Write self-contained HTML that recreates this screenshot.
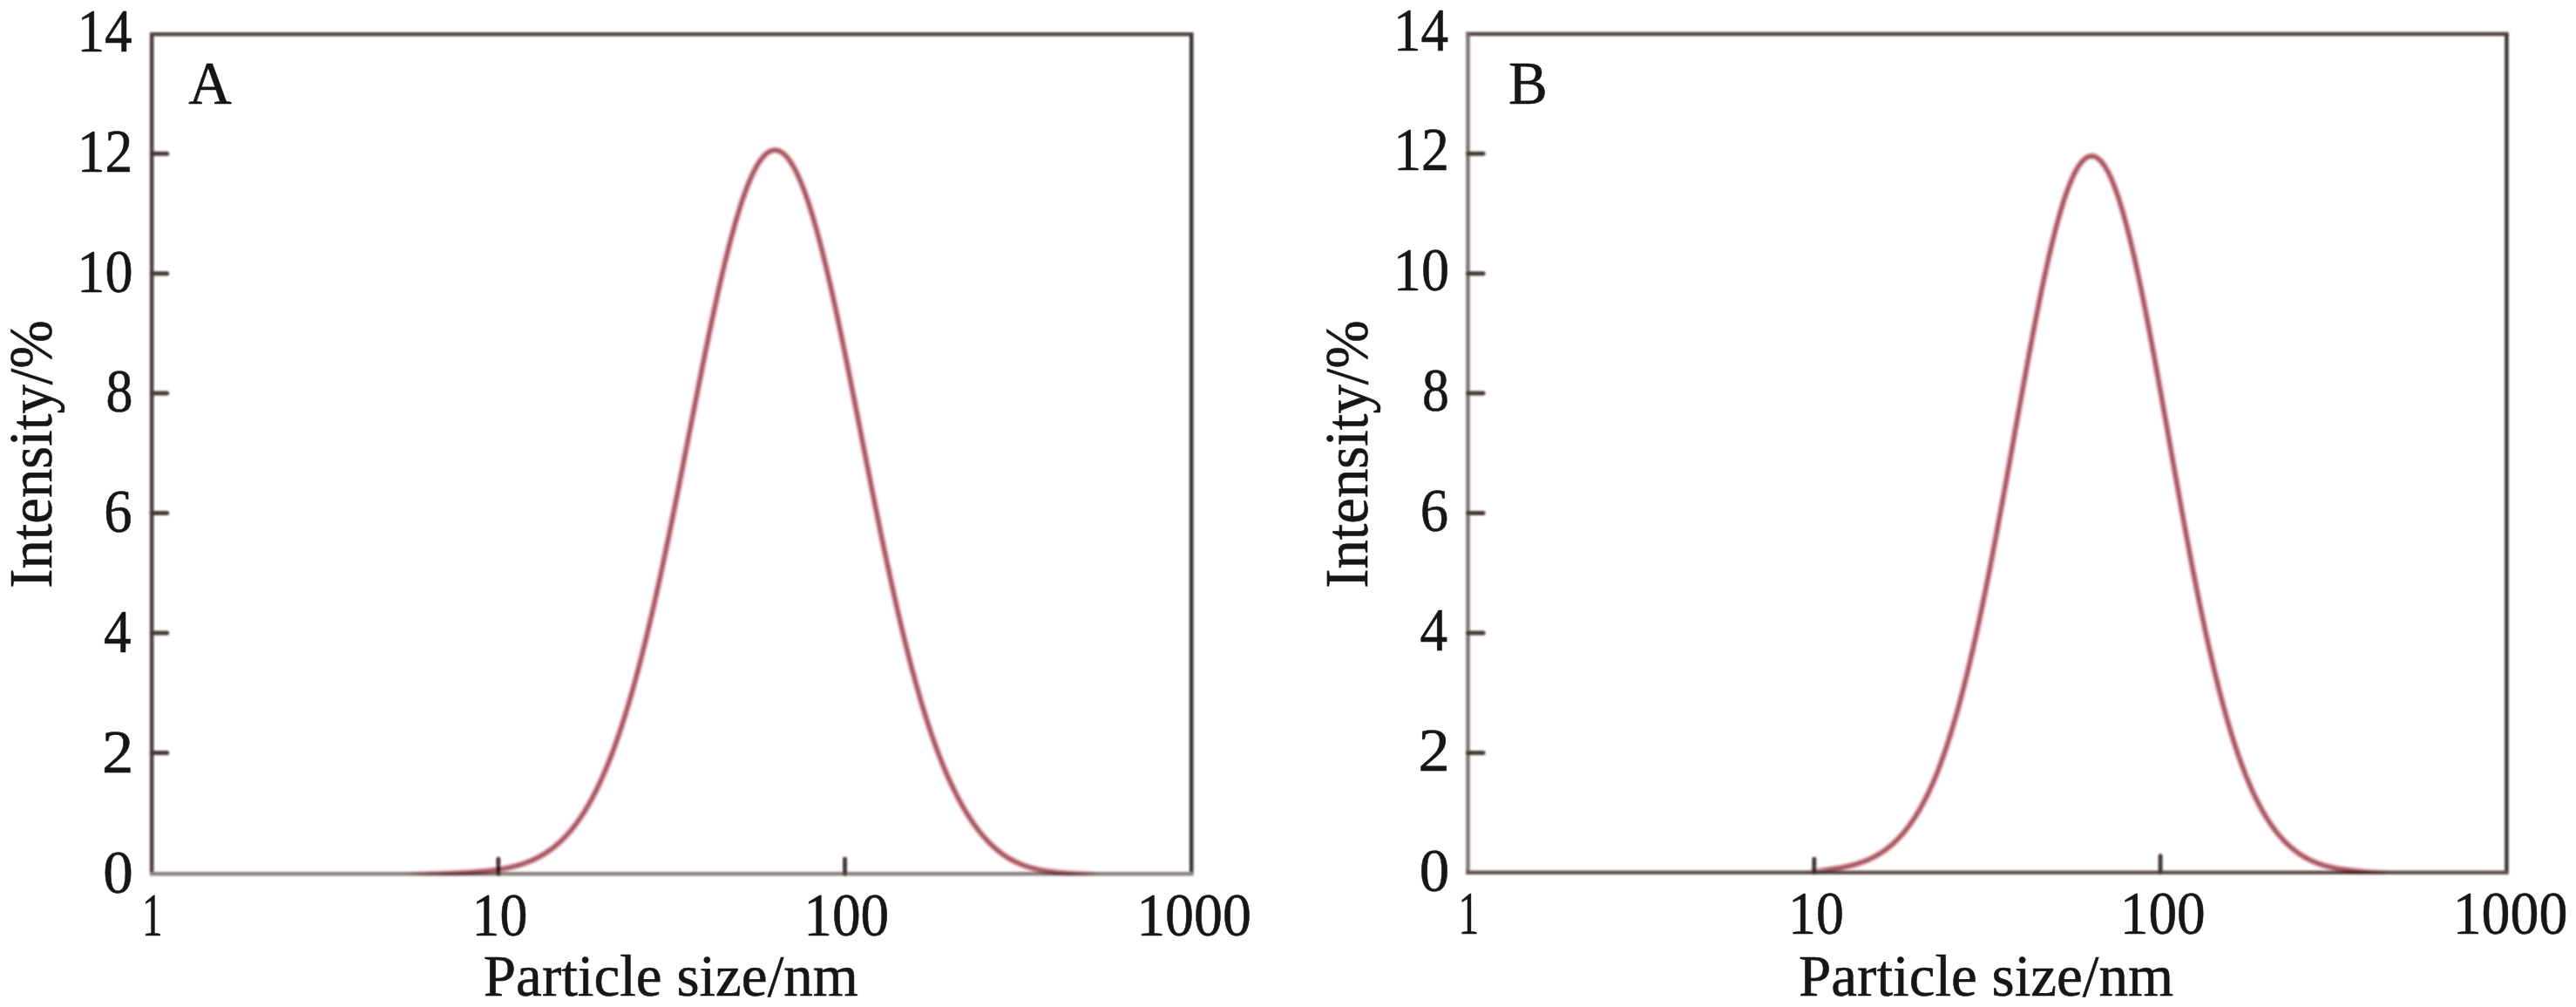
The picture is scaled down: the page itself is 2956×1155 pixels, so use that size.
<!DOCTYPE html>
<html><head><meta charset="utf-8"><title>Particle size distribution</title>
<style>
html,body{margin:0;padding:0;background:#fff;}
body{width:2956px;height:1155px;overflow:hidden;}
svg{display:block;}
text{font-family:"Liberation Serif", serif;fill:#161616;stroke:#161616;stroke-width:0.6px;stroke-linejoin:round;}
</style></head><body>
<svg width="2956" height="1155" viewBox="0 0 2956 1155">
<defs><filter id="soft" x="-2%" y="-2%" width="104%" height="104%"><feGaussianBlur stdDeviation="0.8"/></filter></defs>
<rect width="2956" height="1155" fill="#fff"/>
<defs><linearGradient id="g174" gradientUnits="userSpaceOnUse" x1="465.0" y1="0" x2="1262.0" y2="0"><stop offset="0" stop-color="#a65c66" stop-opacity="0"/><stop offset="0.100" stop-color="#a65c66" stop-opacity="1"/><stop offset="0.928" stop-color="#a65c66" stop-opacity="1"/><stop offset="1" stop-color="#a65c66" stop-opacity="0"/></linearGradient><linearGradient id="g174h" gradientUnits="userSpaceOnUse" x1="465.0" y1="0" x2="1262.0" y2="0"><stop offset="0" stop-color="#eeb4bc" stop-opacity="0"/><stop offset="0.100" stop-color="#eeb4bc" stop-opacity="1"/><stop offset="0.928" stop-color="#eeb4bc" stop-opacity="1"/><stop offset="1" stop-color="#eeb4bc" stop-opacity="0"/></linearGradient></defs>
<g filter="url(#soft)">
<line x1="171.89999999999998" y1="39.2" x2="1369.5" y2="39.2" stroke="#4f4743" stroke-width="4.6"/>
<line x1="174.2" y1="39.2" x2="174.2" y2="1002.3" stroke="#4b413f" stroke-width="4.6"/>
<line x1="1367.2" y1="39.2" x2="1367.2" y2="1002.3" stroke="#3e3531" stroke-width="4.6"/>
<line x1="171.89999999999998" y1="1002.3" x2="1369.5" y2="1002.3" stroke="#8a8280" stroke-width="4.6"/>
<line x1="174.2" y1="863.40" x2="191.7" y2="863.40" stroke="#453b38" stroke-width="5" stroke-linecap="round"/>
<line x1="174.2" y1="725.96" x2="191.7" y2="725.96" stroke="#453b38" stroke-width="5" stroke-linecap="round"/>
<line x1="174.2" y1="588.52" x2="191.7" y2="588.52" stroke="#453b38" stroke-width="5" stroke-linecap="round"/>
<line x1="174.2" y1="451.08" x2="191.7" y2="451.08" stroke="#453b38" stroke-width="5" stroke-linecap="round"/>
<line x1="174.2" y1="313.64" x2="191.7" y2="313.64" stroke="#453b38" stroke-width="5" stroke-linecap="round"/>
<line x1="174.2" y1="176.20" x2="191.7" y2="176.20" stroke="#453b38" stroke-width="5" stroke-linecap="round"/>
<line x1="571.87" y1="1002.3" x2="571.87" y2="985.3" stroke="#453b38" stroke-width="5" stroke-linecap="round"/>
<line x1="969.53" y1="1002.3" x2="969.53" y2="985.3" stroke="#453b38" stroke-width="5" stroke-linecap="round"/>
<g style="mix-blend-mode:multiply"><path d="M465.0,1001.92 L466.5,1001.92 L468.0,1001.91 L469.5,1001.90 L471.0,1001.90 L472.5,1001.89 L474.0,1001.88 L475.5,1001.88 L477.0,1001.87 L478.5,1001.86 L480.0,1001.85 L481.5,1001.84 L483.0,1001.83 L484.5,1001.82 L486.0,1001.81 L487.5,1001.79 L489.0,1001.78 L490.5,1001.77 L492.0,1001.75 L493.5,1001.74 L495.0,1001.72 L496.5,1001.70 L498.0,1001.68 L499.5,1001.66 L501.0,1001.64 L502.5,1001.62 L504.0,1001.60 L505.5,1001.57 L507.0,1001.55 L508.5,1001.52 L510.0,1001.49 L511.5,1001.46 L513.0,1001.43 L514.5,1001.39 L516.0,1001.36 L517.5,1001.32 L519.0,1001.28 L520.5,1001.24 L522.0,1001.19 L523.5,1001.15 L525.0,1001.10 L526.5,1001.04 L528.0,1000.99 L529.5,1000.93 L531.0,1000.87 L532.5,1000.81 L534.0,1000.74 L535.5,1000.67 L537.0,1000.59 L538.5,1000.51 L540.0,1000.43 L541.5,1000.35 L543.0,1000.25 L544.5,1000.16 L546.0,1000.06 L547.5,999.95 L549.0,999.84 L550.5,999.73 L552.0,999.60 L553.5,999.48 L555.0,999.34 L556.5,999.20 L558.0,999.06 L559.5,998.90 L561.0,998.74 L562.5,998.57 L564.0,998.40 L565.5,998.21 L567.0,998.02 L568.5,997.81 L570.0,997.60 L571.5,997.38 L573.0,997.15 L574.5,996.91 L576.0,996.65 L577.5,996.39 L579.0,996.12 L580.5,995.83 L582.0,995.53 L583.5,995.21 L585.0,994.89 L586.5,994.55 L588.0,994.19 L589.5,993.82 L591.0,993.43 L592.5,993.03 L594.0,992.61 L595.5,992.18 L597.0,991.72 L598.5,991.25 L600.0,990.76 L601.5,990.25 L603.0,989.71 L604.5,989.16 L606.0,988.58 L607.5,987.99 L609.0,987.37 L610.5,986.72 L612.0,986.05 L613.5,985.36 L615.0,984.64 L616.5,983.89 L618.0,983.11 L619.5,982.31 L621.0,981.47 L622.5,980.61 L624.0,979.71 L625.5,978.78 L627.0,977.82 L628.5,976.83 L630.0,975.80 L631.5,974.73 L633.0,973.63 L634.5,972.49 L636.0,971.31 L637.5,970.09 L639.0,968.83 L640.5,967.53 L642.0,966.18 L643.5,964.80 L645.0,963.36 L646.5,961.88 L648.0,960.36 L649.5,958.78 L651.0,957.16 L652.5,955.49 L654.0,953.76 L655.5,951.99 L657.0,950.16 L658.5,948.27 L660.0,946.33 L661.5,944.33 L663.0,942.28 L664.5,940.16 L666.0,937.99 L667.5,935.76 L669.0,933.46 L670.5,931.10 L672.0,928.67 L673.5,926.18 L675.0,923.63 L676.5,921.00 L678.0,918.31 L679.5,915.55 L681.0,912.71 L682.5,909.81 L684.0,906.83 L685.5,903.78 L687.0,900.66 L688.5,897.46 L690.0,894.19 L691.5,890.83 L693.0,887.40 L694.5,883.90 L696.0,880.31 L697.5,876.64 L699.0,872.89 L700.5,869.06 L702.0,865.15 L703.5,861.16 L705.0,857.08 L706.5,852.92 L708.0,848.67 L709.5,844.35 L711.0,839.93 L712.5,835.43 L714.0,830.85 L715.5,826.18 L717.0,821.43 L718.5,816.59 L720.0,811.66 L721.5,806.65 L723.0,801.55 L724.5,796.37 L726.0,791.10 L727.5,785.75 L729.0,780.31 L730.5,774.79 L732.0,769.18 L733.5,763.49 L735.0,757.72 L736.5,751.87 L738.0,745.94 L739.5,739.92 L741.0,733.83 L742.5,727.66 L744.0,721.41 L745.5,715.09 L747.0,708.69 L748.5,702.22 L750.0,695.68 L751.5,689.06 L753.0,682.38 L754.5,675.63 L756.0,668.81 L757.5,661.93 L759.0,654.99 L760.5,647.99 L762.0,640.94 L763.5,633.82 L765.0,626.66 L766.5,619.44 L768.0,612.17 L769.5,604.86 L771.0,597.50 L772.5,590.11 L774.0,582.67 L775.5,575.20 L777.0,567.70 L778.5,560.16 L780.0,552.61 L781.5,545.02 L783.0,537.42 L784.5,529.80 L786.0,522.16 L787.5,514.52 L789.0,506.87 L790.5,499.21 L792.0,491.56 L793.5,483.90 L795.0,476.26 L796.5,468.62 L798.0,461.00 L799.5,453.40 L801.0,445.82 L802.5,438.26 L804.0,430.74 L805.5,423.24 L807.0,415.79 L808.5,408.38 L810.0,401.01 L811.5,393.69 L813.0,386.42 L814.5,379.22 L816.0,372.07 L817.5,364.99 L819.0,357.98 L820.5,351.04 L822.0,344.18 L823.5,337.40 L825.0,330.70 L826.5,324.10 L828.0,317.59 L829.5,311.18 L831.0,304.86 L832.5,298.66 L834.0,292.56 L835.5,286.58 L837.0,280.71 L838.5,274.96 L840.0,269.33 L841.5,263.84 L843.0,258.47 L844.5,253.24 L846.0,248.14 L847.5,243.19 L849.0,238.38 L850.5,233.72 L852.0,229.20 L853.5,224.85 L855.0,220.64 L856.5,216.60 L858.0,212.72 L859.5,209.00 L861.0,205.45 L862.5,202.07 L864.0,198.86 L865.5,195.83 L867.0,192.97 L868.5,190.29 L870.0,187.78 L871.5,185.46 L873.0,183.32 L874.5,181.37 L876.0,179.60 L877.5,178.02 L879.0,176.63 L880.5,175.42 L882.0,174.41 L883.5,173.59 L885.0,172.95 L886.5,172.51 L888.0,172.26 L889.5,172.20 L891.0,172.34 L892.5,172.66 L894.0,173.17 L895.5,173.88 L897.0,174.77 L898.5,175.85 L900.0,177.12 L901.5,178.58 L903.0,180.22 L904.5,182.05 L906.0,184.06 L907.5,186.26 L909.0,188.63 L910.5,191.19 L912.0,193.92 L913.5,196.82 L915.0,199.91 L916.5,203.16 L918.0,206.58 L919.5,210.17 L921.0,213.92 L922.5,217.84 L924.0,221.91 L925.5,226.15 L927.0,230.53 L928.5,235.07 L930.0,239.76 L931.5,244.59 L933.0,249.56 L934.5,254.68 L936.0,259.93 L937.5,265.31 L939.0,270.82 L940.5,276.45 L942.0,282.21 L943.5,288.08 L945.0,294.07 L946.5,300.17 L948.0,306.38 L949.5,312.69 L951.0,319.10 L952.5,325.61 L954.0,332.21 L955.5,338.89 L957.0,345.66 L958.5,352.51 L960.0,359.44 L961.5,366.44 L963.0,373.50 L964.5,380.63 L966.0,387.82 L967.5,395.07 L969.0,402.37 L970.5,409.71 L972.0,417.10 L973.5,424.54 L975.0,432.00 L976.5,439.50 L978.0,447.03 L979.5,454.59 L981.0,462.16 L982.5,469.76 L984.0,477.36 L985.5,484.98 L987.0,492.60 L988.5,500.23 L990.0,507.85 L991.5,515.47 L993.0,523.08 L994.5,530.69 L996.0,538.27 L997.5,545.84 L999.0,553.39 L1000.5,560.92 L1002.0,568.42 L1003.5,575.89 L1005.0,583.33 L1006.5,590.73 L1008.0,598.09 L1009.5,605.42 L1011.0,612.70 L1012.5,619.93 L1014.0,627.11 L1015.5,634.25 L1017.0,641.33 L1018.5,648.36 L1020.0,655.33 L1021.5,662.24 L1023.0,669.08 L1024.5,675.87 L1026.0,682.59 L1027.5,689.24 L1029.0,695.83 L1030.5,702.35 L1032.0,708.79 L1033.5,715.16 L1035.0,721.46 L1036.5,727.68 L1038.0,733.83 L1039.5,739.89 L1041.0,745.88 L1042.5,751.79 L1044.0,757.62 L1045.5,763.37 L1047.0,769.04 L1048.5,774.63 L1050.0,780.13 L1051.5,785.55 L1053.0,790.88 L1054.5,796.13 L1056.0,801.30 L1057.5,806.38 L1059.0,811.37 L1060.5,816.29 L1062.0,821.11 L1063.5,825.85 L1065.0,830.51 L1066.5,835.08 L1068.0,839.57 L1069.5,843.97 L1071.0,848.29 L1072.5,852.52 L1074.0,856.68 L1075.5,860.75 L1077.0,864.73 L1078.5,868.64 L1080.0,872.46 L1081.5,876.20 L1083.0,879.86 L1084.5,883.45 L1086.0,886.95 L1087.5,890.38 L1089.0,893.73 L1090.5,897.00 L1092.0,900.21 L1093.5,903.36 L1095.0,906.44 L1096.5,909.45 L1098.0,912.40 L1099.5,915.28 L1101.0,918.11 L1102.5,920.86 L1104.0,923.56 L1105.5,926.19 L1107.0,928.77 L1108.5,931.28 L1110.0,933.73 L1111.5,936.12 L1113.0,938.46 L1114.5,940.73 L1116.0,942.95 L1117.5,945.11 L1119.0,947.21 L1120.5,949.26 L1122.0,951.25 L1123.5,953.19 L1125.0,955.07 L1126.5,956.90 L1128.0,958.68 L1129.5,960.41 L1131.0,962.09 L1132.5,963.72 L1134.0,965.30 L1135.5,966.83 L1137.0,968.31 L1138.5,969.75 L1140.0,971.14 L1141.5,972.49 L1143.0,973.79 L1144.5,975.05 L1146.0,976.27 L1147.5,977.44 L1149.0,978.58 L1150.5,979.67 L1152.0,980.73 L1153.5,981.75 L1155.0,982.73 L1156.5,983.67 L1158.0,984.58 L1159.5,985.45 L1161.0,986.29 L1162.5,987.10 L1164.0,987.87 L1165.5,988.62 L1167.0,989.33 L1168.5,990.01 L1170.0,990.66 L1171.5,991.29 L1173.0,991.89 L1174.5,992.46 L1176.0,993.01 L1177.5,993.53 L1179.0,994.03 L1180.5,994.50 L1182.0,994.95 L1183.5,995.38 L1185.0,995.79 L1186.5,996.18 L1188.0,996.55 L1189.5,996.90 L1191.0,997.23 L1192.5,997.54 L1194.0,997.84 L1195.5,998.12 L1197.0,998.38 L1198.5,998.63 L1200.0,998.87 L1201.5,999.09 L1203.0,999.30 L1204.5,999.50 L1206.0,999.68 L1207.5,999.86 L1209.0,1000.02 L1210.5,1000.17 L1212.0,1000.32 L1213.5,1000.45 L1215.0,1000.57 L1216.5,1000.69 L1218.0,1000.80 L1219.5,1000.90 L1221.0,1000.99 L1222.5,1001.08 L1224.0,1001.16 L1225.5,1001.23 L1227.0,1001.30 L1228.5,1001.36 L1230.0,1001.42 L1231.5,1001.48 L1233.0,1001.53 L1234.5,1001.57 L1236.0,1001.61 L1237.5,1001.65 L1239.0,1001.69 L1240.5,1001.72 L1242.0,1001.75 L1243.5,1001.77 L1245.0,1001.80 L1246.5,1001.82 L1248.0,1001.84 L1249.5,1001.86 L1251.0,1001.87 L1252.5,1001.89 L1254.0,1001.90 L1255.5,1001.91 L1257.0,1001.92 L1258.5,1001.93 L1260.0,1001.94 L1261.5,1001.95" fill="none" stroke="url(#g174h)" stroke-width="8" stroke-linejoin="round"/><path d="M465.0,1001.92 L466.5,1001.92 L468.0,1001.91 L469.5,1001.90 L471.0,1001.90 L472.5,1001.89 L474.0,1001.88 L475.5,1001.88 L477.0,1001.87 L478.5,1001.86 L480.0,1001.85 L481.5,1001.84 L483.0,1001.83 L484.5,1001.82 L486.0,1001.81 L487.5,1001.79 L489.0,1001.78 L490.5,1001.77 L492.0,1001.75 L493.5,1001.74 L495.0,1001.72 L496.5,1001.70 L498.0,1001.68 L499.5,1001.66 L501.0,1001.64 L502.5,1001.62 L504.0,1001.60 L505.5,1001.57 L507.0,1001.55 L508.5,1001.52 L510.0,1001.49 L511.5,1001.46 L513.0,1001.43 L514.5,1001.39 L516.0,1001.36 L517.5,1001.32 L519.0,1001.28 L520.5,1001.24 L522.0,1001.19 L523.5,1001.15 L525.0,1001.10 L526.5,1001.04 L528.0,1000.99 L529.5,1000.93 L531.0,1000.87 L532.5,1000.81 L534.0,1000.74 L535.5,1000.67 L537.0,1000.59 L538.5,1000.51 L540.0,1000.43 L541.5,1000.35 L543.0,1000.25 L544.5,1000.16 L546.0,1000.06 L547.5,999.95 L549.0,999.84 L550.5,999.73 L552.0,999.60 L553.5,999.48 L555.0,999.34 L556.5,999.20 L558.0,999.06 L559.5,998.90 L561.0,998.74 L562.5,998.57 L564.0,998.40 L565.5,998.21 L567.0,998.02 L568.5,997.81 L570.0,997.60 L571.5,997.38 L573.0,997.15 L574.5,996.91 L576.0,996.65 L577.5,996.39 L579.0,996.12 L580.5,995.83 L582.0,995.53 L583.5,995.21 L585.0,994.89 L586.5,994.55 L588.0,994.19 L589.5,993.82 L591.0,993.43 L592.5,993.03 L594.0,992.61 L595.5,992.18 L597.0,991.72 L598.5,991.25 L600.0,990.76 L601.5,990.25 L603.0,989.71 L604.5,989.16 L606.0,988.58 L607.5,987.99 L609.0,987.37 L610.5,986.72 L612.0,986.05 L613.5,985.36 L615.0,984.64 L616.5,983.89 L618.0,983.11 L619.5,982.31 L621.0,981.47 L622.5,980.61 L624.0,979.71 L625.5,978.78 L627.0,977.82 L628.5,976.83 L630.0,975.80 L631.5,974.73 L633.0,973.63 L634.5,972.49 L636.0,971.31 L637.5,970.09 L639.0,968.83 L640.5,967.53 L642.0,966.18 L643.5,964.80 L645.0,963.36 L646.5,961.88 L648.0,960.36 L649.5,958.78 L651.0,957.16 L652.5,955.49 L654.0,953.76 L655.5,951.99 L657.0,950.16 L658.5,948.27 L660.0,946.33 L661.5,944.33 L663.0,942.28 L664.5,940.16 L666.0,937.99 L667.5,935.76 L669.0,933.46 L670.5,931.10 L672.0,928.67 L673.5,926.18 L675.0,923.63 L676.5,921.00 L678.0,918.31 L679.5,915.55 L681.0,912.71 L682.5,909.81 L684.0,906.83 L685.5,903.78 L687.0,900.66 L688.5,897.46 L690.0,894.19 L691.5,890.83 L693.0,887.40 L694.5,883.90 L696.0,880.31 L697.5,876.64 L699.0,872.89 L700.5,869.06 L702.0,865.15 L703.5,861.16 L705.0,857.08 L706.5,852.92 L708.0,848.67 L709.5,844.35 L711.0,839.93 L712.5,835.43 L714.0,830.85 L715.5,826.18 L717.0,821.43 L718.5,816.59 L720.0,811.66 L721.5,806.65 L723.0,801.55 L724.5,796.37 L726.0,791.10 L727.5,785.75 L729.0,780.31 L730.5,774.79 L732.0,769.18 L733.5,763.49 L735.0,757.72 L736.5,751.87 L738.0,745.94 L739.5,739.92 L741.0,733.83 L742.5,727.66 L744.0,721.41 L745.5,715.09 L747.0,708.69 L748.5,702.22 L750.0,695.68 L751.5,689.06 L753.0,682.38 L754.5,675.63 L756.0,668.81 L757.5,661.93 L759.0,654.99 L760.5,647.99 L762.0,640.94 L763.5,633.82 L765.0,626.66 L766.5,619.44 L768.0,612.17 L769.5,604.86 L771.0,597.50 L772.5,590.11 L774.0,582.67 L775.5,575.20 L777.0,567.70 L778.5,560.16 L780.0,552.61 L781.5,545.02 L783.0,537.42 L784.5,529.80 L786.0,522.16 L787.5,514.52 L789.0,506.87 L790.5,499.21 L792.0,491.56 L793.5,483.90 L795.0,476.26 L796.5,468.62 L798.0,461.00 L799.5,453.40 L801.0,445.82 L802.5,438.26 L804.0,430.74 L805.5,423.24 L807.0,415.79 L808.5,408.38 L810.0,401.01 L811.5,393.69 L813.0,386.42 L814.5,379.22 L816.0,372.07 L817.5,364.99 L819.0,357.98 L820.5,351.04 L822.0,344.18 L823.5,337.40 L825.0,330.70 L826.5,324.10 L828.0,317.59 L829.5,311.18 L831.0,304.86 L832.5,298.66 L834.0,292.56 L835.5,286.58 L837.0,280.71 L838.5,274.96 L840.0,269.33 L841.5,263.84 L843.0,258.47 L844.5,253.24 L846.0,248.14 L847.5,243.19 L849.0,238.38 L850.5,233.72 L852.0,229.20 L853.5,224.85 L855.0,220.64 L856.5,216.60 L858.0,212.72 L859.5,209.00 L861.0,205.45 L862.5,202.07 L864.0,198.86 L865.5,195.83 L867.0,192.97 L868.5,190.29 L870.0,187.78 L871.5,185.46 L873.0,183.32 L874.5,181.37 L876.0,179.60 L877.5,178.02 L879.0,176.63 L880.5,175.42 L882.0,174.41 L883.5,173.59 L885.0,172.95 L886.5,172.51 L888.0,172.26 L889.5,172.20 L891.0,172.34 L892.5,172.66 L894.0,173.17 L895.5,173.88 L897.0,174.77 L898.5,175.85 L900.0,177.12 L901.5,178.58 L903.0,180.22 L904.5,182.05 L906.0,184.06 L907.5,186.26 L909.0,188.63 L910.5,191.19 L912.0,193.92 L913.5,196.82 L915.0,199.91 L916.5,203.16 L918.0,206.58 L919.5,210.17 L921.0,213.92 L922.5,217.84 L924.0,221.91 L925.5,226.15 L927.0,230.53 L928.5,235.07 L930.0,239.76 L931.5,244.59 L933.0,249.56 L934.5,254.68 L936.0,259.93 L937.5,265.31 L939.0,270.82 L940.5,276.45 L942.0,282.21 L943.5,288.08 L945.0,294.07 L946.5,300.17 L948.0,306.38 L949.5,312.69 L951.0,319.10 L952.5,325.61 L954.0,332.21 L955.5,338.89 L957.0,345.66 L958.5,352.51 L960.0,359.44 L961.5,366.44 L963.0,373.50 L964.5,380.63 L966.0,387.82 L967.5,395.07 L969.0,402.37 L970.5,409.71 L972.0,417.10 L973.5,424.54 L975.0,432.00 L976.5,439.50 L978.0,447.03 L979.5,454.59 L981.0,462.16 L982.5,469.76 L984.0,477.36 L985.5,484.98 L987.0,492.60 L988.5,500.23 L990.0,507.85 L991.5,515.47 L993.0,523.08 L994.5,530.69 L996.0,538.27 L997.5,545.84 L999.0,553.39 L1000.5,560.92 L1002.0,568.42 L1003.5,575.89 L1005.0,583.33 L1006.5,590.73 L1008.0,598.09 L1009.5,605.42 L1011.0,612.70 L1012.5,619.93 L1014.0,627.11 L1015.5,634.25 L1017.0,641.33 L1018.5,648.36 L1020.0,655.33 L1021.5,662.24 L1023.0,669.08 L1024.5,675.87 L1026.0,682.59 L1027.5,689.24 L1029.0,695.83 L1030.5,702.35 L1032.0,708.79 L1033.5,715.16 L1035.0,721.46 L1036.5,727.68 L1038.0,733.83 L1039.5,739.89 L1041.0,745.88 L1042.5,751.79 L1044.0,757.62 L1045.5,763.37 L1047.0,769.04 L1048.5,774.63 L1050.0,780.13 L1051.5,785.55 L1053.0,790.88 L1054.5,796.13 L1056.0,801.30 L1057.5,806.38 L1059.0,811.37 L1060.5,816.29 L1062.0,821.11 L1063.5,825.85 L1065.0,830.51 L1066.5,835.08 L1068.0,839.57 L1069.5,843.97 L1071.0,848.29 L1072.5,852.52 L1074.0,856.68 L1075.5,860.75 L1077.0,864.73 L1078.5,868.64 L1080.0,872.46 L1081.5,876.20 L1083.0,879.86 L1084.5,883.45 L1086.0,886.95 L1087.5,890.38 L1089.0,893.73 L1090.5,897.00 L1092.0,900.21 L1093.5,903.36 L1095.0,906.44 L1096.5,909.45 L1098.0,912.40 L1099.5,915.28 L1101.0,918.11 L1102.5,920.86 L1104.0,923.56 L1105.5,926.19 L1107.0,928.77 L1108.5,931.28 L1110.0,933.73 L1111.5,936.12 L1113.0,938.46 L1114.5,940.73 L1116.0,942.95 L1117.5,945.11 L1119.0,947.21 L1120.5,949.26 L1122.0,951.25 L1123.5,953.19 L1125.0,955.07 L1126.5,956.90 L1128.0,958.68 L1129.5,960.41 L1131.0,962.09 L1132.5,963.72 L1134.0,965.30 L1135.5,966.83 L1137.0,968.31 L1138.5,969.75 L1140.0,971.14 L1141.5,972.49 L1143.0,973.79 L1144.5,975.05 L1146.0,976.27 L1147.5,977.44 L1149.0,978.58 L1150.5,979.67 L1152.0,980.73 L1153.5,981.75 L1155.0,982.73 L1156.5,983.67 L1158.0,984.58 L1159.5,985.45 L1161.0,986.29 L1162.5,987.10 L1164.0,987.87 L1165.5,988.62 L1167.0,989.33 L1168.5,990.01 L1170.0,990.66 L1171.5,991.29 L1173.0,991.89 L1174.5,992.46 L1176.0,993.01 L1177.5,993.53 L1179.0,994.03 L1180.5,994.50 L1182.0,994.95 L1183.5,995.38 L1185.0,995.79 L1186.5,996.18 L1188.0,996.55 L1189.5,996.90 L1191.0,997.23 L1192.5,997.54 L1194.0,997.84 L1195.5,998.12 L1197.0,998.38 L1198.5,998.63 L1200.0,998.87 L1201.5,999.09 L1203.0,999.30 L1204.5,999.50 L1206.0,999.68 L1207.5,999.86 L1209.0,1000.02 L1210.5,1000.17 L1212.0,1000.32 L1213.5,1000.45 L1215.0,1000.57 L1216.5,1000.69 L1218.0,1000.80 L1219.5,1000.90 L1221.0,1000.99 L1222.5,1001.08 L1224.0,1001.16 L1225.5,1001.23 L1227.0,1001.30 L1228.5,1001.36 L1230.0,1001.42 L1231.5,1001.48 L1233.0,1001.53 L1234.5,1001.57 L1236.0,1001.61 L1237.5,1001.65 L1239.0,1001.69 L1240.5,1001.72 L1242.0,1001.75 L1243.5,1001.77 L1245.0,1001.80 L1246.5,1001.82 L1248.0,1001.84 L1249.5,1001.86 L1251.0,1001.87 L1252.5,1001.89 L1254.0,1001.90 L1255.5,1001.91 L1257.0,1001.92 L1258.5,1001.93 L1260.0,1001.94 L1261.5,1001.95" fill="none" stroke="url(#g174)" stroke-width="4.8" stroke-linejoin="round"/></g>
</g>
<text x="118.32" y="1023.50" font-size="69.5" textLength="34.51" lengthAdjust="spacingAndGlyphs">0</text>
<text x="117.07" y="885.73" font-size="69.5" textLength="36.24" lengthAdjust="spacingAndGlyphs">2</text>
<text x="118.99" y="747.96" font-size="69.5" textLength="31.59" lengthAdjust="spacingAndGlyphs">4</text>
<text x="119.21" y="610.19" font-size="69.5" textLength="32.32" lengthAdjust="spacingAndGlyphs">6</text>
<text x="121.43" y="472.42" font-size="69.5" textLength="30.92" lengthAdjust="spacingAndGlyphs">8</text>
<text x="88.36" y="334.65" font-size="69.5" textLength="64.15" lengthAdjust="spacingAndGlyphs">10</text>
<text x="88.71" y="196.88" font-size="69.5" textLength="63.59" lengthAdjust="spacingAndGlyphs">12</text>
<text x="88.45" y="59.11" font-size="69.5" textLength="63.11" lengthAdjust="spacingAndGlyphs">14</text>
<text x="163.02" y="1072.70" font-size="69.5" textLength="23.63" lengthAdjust="spacingAndGlyphs">1</text>
<text x="541.49" y="1072.70" font-size="69.5" textLength="63.80" lengthAdjust="spacingAndGlyphs">10</text>
<text x="922.26" y="1072.70" font-size="69.5" textLength="97.95" lengthAdjust="spacingAndGlyphs">100</text>
<text x="1304.22" y="1072.70" font-size="69.5" textLength="131.62" lengthAdjust="spacingAndGlyphs">1000</text>
<text x="554.84" y="1141.80" font-size="68.5" textLength="430.13" lengthAdjust="spacingAndGlyphs">Particle size/nm</text>
<text transform="translate(58.60,674.78) rotate(-90)" font-size="69.5" textLength="307.71" lengthAdjust="spacingAndGlyphs">Intensity/%</text>
<text x="216.23" y="118.90" font-size="70.5" textLength="49.57" lengthAdjust="spacingAndGlyphs">A</text>
<defs><linearGradient id="g1684" gradientUnits="userSpaceOnUse" x1="2074.0" y1="0" x2="2742.0" y2="0"><stop offset="0" stop-color="#a65c66" stop-opacity="0"/><stop offset="0.039" stop-color="#a65c66" stop-opacity="1"/><stop offset="0.930" stop-color="#a65c66" stop-opacity="1"/><stop offset="1" stop-color="#a65c66" stop-opacity="0"/></linearGradient><linearGradient id="g1684h" gradientUnits="userSpaceOnUse" x1="2074.0" y1="0" x2="2742.0" y2="0"><stop offset="0" stop-color="#eeb4bc" stop-opacity="0"/><stop offset="0.039" stop-color="#eeb4bc" stop-opacity="1"/><stop offset="0.930" stop-color="#eeb4bc" stop-opacity="1"/><stop offset="1" stop-color="#eeb4bc" stop-opacity="0"/></linearGradient></defs>
<g filter="url(#soft)">
<line x1="1682.2" y1="39.0" x2="2878.7000000000003" y2="39.0" stroke="#4f4743" stroke-width="4.6"/>
<line x1="1684.5" y1="39.0" x2="1684.5" y2="1000.8" stroke="#807875" stroke-width="4.6"/>
<line x1="2876.4" y1="39.0" x2="2876.4" y2="1000.8" stroke="#433a36" stroke-width="4.6"/>
<line x1="1682.2" y1="1000.8" x2="2878.7000000000003" y2="1000.8" stroke="#5c534e" stroke-width="4.6"/>
<line x1="1684.5" y1="863.40" x2="1702.0" y2="863.40" stroke="#453b38" stroke-width="5" stroke-linecap="round"/>
<line x1="1684.5" y1="725.96" x2="1702.0" y2="725.96" stroke="#453b38" stroke-width="5" stroke-linecap="round"/>
<line x1="1684.5" y1="588.52" x2="1702.0" y2="588.52" stroke="#453b38" stroke-width="5" stroke-linecap="round"/>
<line x1="1684.5" y1="451.08" x2="1702.0" y2="451.08" stroke="#453b38" stroke-width="5" stroke-linecap="round"/>
<line x1="1684.5" y1="313.64" x2="1702.0" y2="313.64" stroke="#453b38" stroke-width="5" stroke-linecap="round"/>
<line x1="1684.5" y1="176.20" x2="1702.0" y2="176.20" stroke="#453b38" stroke-width="5" stroke-linecap="round"/>
<line x1="2081.80" y1="1000.8" x2="2081.80" y2="985.3" stroke="#453b38" stroke-width="5" stroke-linecap="round"/>
<line x1="2479.10" y1="1000.8" x2="2479.10" y2="981.8" stroke="#453b38" stroke-width="5" stroke-linecap="round"/>
<g style="mix-blend-mode:multiply"><path d="M2074.0,999.16 L2075.5,999.09 L2077.0,999.00 L2078.5,998.92 L2080.0,998.83 L2081.5,998.73 L2083.0,998.63 L2084.5,998.53 L2086.0,998.41 L2087.5,998.30 L2089.0,998.17 L2090.5,998.05 L2092.0,997.91 L2093.5,997.77 L2095.0,997.62 L2096.5,997.46 L2098.0,997.29 L2099.5,997.12 L2101.0,996.94 L2102.5,996.75 L2104.0,996.55 L2105.5,996.34 L2107.0,996.12 L2108.5,995.89 L2110.0,995.64 L2111.5,995.39 L2113.0,995.12 L2114.5,994.85 L2116.0,994.56 L2117.5,994.25 L2119.0,993.93 L2120.5,993.60 L2122.0,993.25 L2123.5,992.89 L2125.0,992.51 L2126.5,992.11 L2128.0,991.70 L2129.5,991.26 L2131.0,990.81 L2132.5,990.34 L2134.0,989.84 L2135.5,989.33 L2137.0,988.79 L2138.5,988.24 L2140.0,987.65 L2141.5,987.05 L2143.0,986.42 L2144.5,985.76 L2146.0,985.07 L2147.5,984.36 L2149.0,983.62 L2150.5,982.84 L2152.0,982.04 L2153.5,981.21 L2155.0,980.34 L2156.5,979.44 L2158.0,978.50 L2159.5,977.53 L2161.0,976.52 L2162.5,975.47 L2164.0,974.39 L2165.5,973.26 L2167.0,972.09 L2168.5,970.88 L2170.0,969.62 L2171.5,968.32 L2173.0,966.97 L2174.5,965.57 L2176.0,964.12 L2177.5,962.63 L2179.0,961.08 L2180.5,959.48 L2182.0,957.82 L2183.5,956.11 L2185.0,954.34 L2186.5,952.51 L2188.0,950.62 L2189.5,948.67 L2191.0,946.66 L2192.5,944.59 L2194.0,942.44 L2195.5,940.24 L2197.0,937.96 L2198.5,935.61 L2200.0,933.19 L2201.5,930.70 L2203.0,928.14 L2204.5,925.50 L2206.0,922.78 L2207.5,919.98 L2209.0,917.11 L2210.5,914.15 L2212.0,911.12 L2213.5,908.00 L2215.0,904.79 L2216.5,901.50 L2218.0,898.12 L2219.5,894.65 L2221.0,891.05 L2222.5,887.32 L2224.0,883.48 L2225.5,879.56 L2227.0,875.53 L2228.5,871.41 L2230.0,867.19 L2231.5,862.87 L2233.0,858.45 L2234.5,853.93 L2236.0,849.30 L2237.5,844.58 L2239.0,839.75 L2240.5,834.83 L2242.0,829.79 L2243.5,824.66 L2245.0,819.42 L2246.5,814.08 L2248.0,808.64 L2249.5,803.09 L2251.0,797.44 L2252.5,791.68 L2254.0,785.83 L2255.5,779.87 L2257.0,773.81 L2258.5,767.65 L2260.0,761.39 L2261.5,755.03 L2263.0,748.57 L2264.5,742.01 L2266.0,735.36 L2267.5,728.62 L2269.0,721.78 L2270.5,714.85 L2272.0,707.83 L2273.5,700.73 L2275.0,693.53 L2276.5,686.26 L2278.0,678.90 L2279.5,671.46 L2281.0,663.95 L2282.5,656.36 L2284.0,648.70 L2285.5,640.97 L2287.0,633.17 L2288.5,625.31 L2290.0,617.39 L2291.5,609.41 L2293.0,601.39 L2294.5,593.31 L2296.0,585.18 L2297.5,577.01 L2299.0,568.80 L2300.5,560.56 L2302.0,552.29 L2303.5,543.99 L2305.0,535.66 L2306.5,527.32 L2308.0,518.97 L2309.5,510.60 L2311.0,502.24 L2312.5,493.87 L2314.0,485.50 L2315.5,477.15 L2317.0,468.81 L2318.5,460.49 L2320.0,452.19 L2321.5,443.93 L2323.0,435.69 L2324.5,427.50 L2326.0,419.36 L2327.5,411.26 L2329.0,403.22 L2330.5,395.24 L2332.0,387.33 L2333.5,379.49 L2335.0,371.72 L2336.5,364.04 L2338.0,356.45 L2339.5,348.95 L2341.0,341.55 L2342.5,334.25 L2344.0,327.06 L2345.5,319.99 L2347.0,313.04 L2348.5,306.21 L2350.0,299.51 L2351.5,292.94 L2353.0,286.52 L2354.5,280.24 L2356.0,274.11 L2357.5,268.14 L2359.0,262.32 L2360.5,256.67 L2362.0,251.19 L2363.5,245.87 L2365.0,240.74 L2366.5,235.79 L2368.0,231.02 L2369.5,226.44 L2371.0,222.05 L2372.5,217.86 L2374.0,213.87 L2375.5,210.08 L2377.0,206.49 L2378.5,203.12 L2380.0,199.95 L2381.5,197.00 L2383.0,194.27 L2384.5,191.76 L2386.0,189.47 L2387.5,187.40 L2389.0,185.55 L2390.5,183.93 L2392.0,182.54 L2393.5,181.38 L2395.0,180.45 L2396.5,179.74 L2398.0,179.27 L2399.5,179.03 L2401.0,179.03 L2402.5,179.25 L2404.0,179.72 L2405.5,180.42 L2407.0,181.36 L2408.5,182.53 L2410.0,183.93 L2411.5,185.57 L2413.0,187.43 L2414.5,189.53 L2416.0,191.85 L2417.5,194.40 L2419.0,197.18 L2420.5,200.17 L2422.0,203.38 L2423.5,206.81 L2425.0,210.45 L2426.5,214.30 L2428.0,218.36 L2429.5,222.62 L2431.0,227.08 L2432.5,231.73 L2434.0,236.58 L2435.5,241.61 L2437.0,246.83 L2438.5,252.23 L2440.0,257.80 L2441.5,263.55 L2443.0,269.46 L2444.5,275.53 L2446.0,281.76 L2447.5,288.14 L2449.0,294.66 L2450.5,301.33 L2452.0,308.14 L2453.5,315.07 L2455.0,322.13 L2456.5,329.31 L2458.0,336.61 L2459.5,344.02 L2461.0,351.53 L2462.5,359.14 L2464.0,366.84 L2465.5,374.63 L2467.0,382.51 L2468.5,390.46 L2470.0,398.48 L2471.5,406.56 L2473.0,414.71 L2474.5,422.91 L2476.0,431.16 L2477.5,439.45 L2479.0,447.79 L2480.5,456.15 L2482.0,464.54 L2483.5,472.96 L2485.0,481.39 L2486.5,489.84 L2488.0,498.29 L2489.5,506.74 L2491.0,515.20 L2492.5,523.64 L2494.0,532.07 L2495.5,540.49 L2497.0,548.88 L2498.5,557.25 L2500.0,565.59 L2501.5,573.90 L2503.0,582.16 L2504.5,590.39 L2506.0,598.57 L2507.5,606.70 L2509.0,614.77 L2510.5,622.79 L2512.0,630.75 L2513.5,638.65 L2515.0,646.48 L2516.5,654.24 L2518.0,661.92 L2519.5,669.53 L2521.0,677.07 L2522.5,684.52 L2524.0,691.89 L2525.5,699.17 L2527.0,706.37 L2528.5,713.48 L2530.0,720.50 L2531.5,727.42 L2533.0,734.25 L2534.5,740.98 L2536.0,747.62 L2537.5,754.16 L2539.0,760.59 L2540.5,766.93 L2542.0,773.17 L2543.5,779.30 L2545.0,785.33 L2546.5,791.25 L2548.0,797.07 L2549.5,802.79 L2551.0,808.39 L2552.5,813.90 L2554.0,819.30 L2555.5,824.59 L2557.0,829.78 L2558.5,834.86 L2560.0,839.84 L2561.5,844.71 L2563.0,849.48 L2564.5,854.14 L2566.0,858.71 L2567.5,863.16 L2569.0,867.52 L2570.5,871.78 L2572.0,875.93 L2573.5,879.99 L2575.0,883.95 L2576.5,887.81 L2578.0,891.57 L2579.5,895.24 L2581.0,898.81 L2582.5,902.29 L2584.0,905.68 L2585.5,908.98 L2587.0,912.19 L2588.5,915.31 L2590.0,918.34 L2591.5,921.29 L2593.0,924.16 L2594.5,926.94 L2596.0,929.64 L2597.5,932.26 L2599.0,934.81 L2600.5,937.28 L2602.0,939.67 L2603.5,941.99 L2605.0,944.25 L2606.5,946.43 L2608.0,948.55 L2609.5,950.61 L2611.0,952.60 L2612.5,954.52 L2614.0,956.39 L2615.5,958.19 L2617.0,959.94 L2618.5,961.63 L2620.0,963.26 L2621.5,964.84 L2623.0,966.36 L2624.5,967.83 L2626.0,969.25 L2627.5,970.62 L2629.0,971.94 L2630.5,973.21 L2632.0,974.44 L2633.5,975.62 L2635.0,976.75 L2636.5,977.85 L2638.0,978.90 L2639.5,979.91 L2641.0,980.89 L2642.5,981.82 L2644.0,982.72 L2645.5,983.58 L2647.0,984.41 L2648.5,985.20 L2650.0,985.96 L2651.5,986.69 L2653.0,987.39 L2654.5,988.06 L2656.0,988.70 L2657.5,989.31 L2659.0,989.89 L2660.5,990.45 L2662.0,990.99 L2663.5,991.50 L2665.0,991.98 L2666.5,992.45 L2668.0,992.89 L2669.5,993.31 L2671.0,993.72 L2672.5,994.10 L2674.0,994.46 L2675.5,994.81 L2677.0,995.14 L2678.5,995.45 L2680.0,995.75 L2681.5,996.03 L2683.0,996.30 L2684.5,996.55 L2686.0,996.79 L2687.5,997.02 L2689.0,997.24 L2690.5,997.44 L2692.0,997.63 L2693.5,997.81 L2695.0,997.99 L2696.5,998.15 L2698.0,998.30 L2699.5,998.45 L2701.0,998.58 L2702.5,998.71 L2704.0,998.83 L2705.5,998.95 L2707.0,999.05 L2708.5,999.15 L2710.0,999.25 L2711.5,999.33 L2713.0,999.42 L2714.5,999.50 L2716.0,999.57 L2717.5,999.64 L2719.0,999.70 L2720.5,999.76 L2722.0,999.81 L2723.5,999.87 L2725.0,999.91 L2726.5,999.96 L2728.0,1000.00 L2729.5,1000.04 L2731.0,1000.08 L2732.5,1000.11 L2734.0,1000.14 L2735.5,1000.17 L2737.0,1000.20 L2738.5,1000.22 L2740.0,1000.25 L2741.5,1000.27" fill="none" stroke="url(#g1684h)" stroke-width="8" stroke-linejoin="round"/><path d="M2074.0,999.16 L2075.5,999.09 L2077.0,999.00 L2078.5,998.92 L2080.0,998.83 L2081.5,998.73 L2083.0,998.63 L2084.5,998.53 L2086.0,998.41 L2087.5,998.30 L2089.0,998.17 L2090.5,998.05 L2092.0,997.91 L2093.5,997.77 L2095.0,997.62 L2096.5,997.46 L2098.0,997.29 L2099.5,997.12 L2101.0,996.94 L2102.5,996.75 L2104.0,996.55 L2105.5,996.34 L2107.0,996.12 L2108.5,995.89 L2110.0,995.64 L2111.5,995.39 L2113.0,995.12 L2114.5,994.85 L2116.0,994.56 L2117.5,994.25 L2119.0,993.93 L2120.5,993.60 L2122.0,993.25 L2123.5,992.89 L2125.0,992.51 L2126.5,992.11 L2128.0,991.70 L2129.5,991.26 L2131.0,990.81 L2132.5,990.34 L2134.0,989.84 L2135.5,989.33 L2137.0,988.79 L2138.5,988.24 L2140.0,987.65 L2141.5,987.05 L2143.0,986.42 L2144.5,985.76 L2146.0,985.07 L2147.5,984.36 L2149.0,983.62 L2150.5,982.84 L2152.0,982.04 L2153.5,981.21 L2155.0,980.34 L2156.5,979.44 L2158.0,978.50 L2159.5,977.53 L2161.0,976.52 L2162.5,975.47 L2164.0,974.39 L2165.5,973.26 L2167.0,972.09 L2168.5,970.88 L2170.0,969.62 L2171.5,968.32 L2173.0,966.97 L2174.5,965.57 L2176.0,964.12 L2177.5,962.63 L2179.0,961.08 L2180.5,959.48 L2182.0,957.82 L2183.5,956.11 L2185.0,954.34 L2186.5,952.51 L2188.0,950.62 L2189.5,948.67 L2191.0,946.66 L2192.5,944.59 L2194.0,942.44 L2195.5,940.24 L2197.0,937.96 L2198.5,935.61 L2200.0,933.19 L2201.5,930.70 L2203.0,928.14 L2204.5,925.50 L2206.0,922.78 L2207.5,919.98 L2209.0,917.11 L2210.5,914.15 L2212.0,911.12 L2213.5,908.00 L2215.0,904.79 L2216.5,901.50 L2218.0,898.12 L2219.5,894.65 L2221.0,891.05 L2222.5,887.32 L2224.0,883.48 L2225.5,879.56 L2227.0,875.53 L2228.5,871.41 L2230.0,867.19 L2231.5,862.87 L2233.0,858.45 L2234.5,853.93 L2236.0,849.30 L2237.5,844.58 L2239.0,839.75 L2240.5,834.83 L2242.0,829.79 L2243.5,824.66 L2245.0,819.42 L2246.5,814.08 L2248.0,808.64 L2249.5,803.09 L2251.0,797.44 L2252.5,791.68 L2254.0,785.83 L2255.5,779.87 L2257.0,773.81 L2258.5,767.65 L2260.0,761.39 L2261.5,755.03 L2263.0,748.57 L2264.5,742.01 L2266.0,735.36 L2267.5,728.62 L2269.0,721.78 L2270.5,714.85 L2272.0,707.83 L2273.5,700.73 L2275.0,693.53 L2276.5,686.26 L2278.0,678.90 L2279.5,671.46 L2281.0,663.95 L2282.5,656.36 L2284.0,648.70 L2285.5,640.97 L2287.0,633.17 L2288.5,625.31 L2290.0,617.39 L2291.5,609.41 L2293.0,601.39 L2294.5,593.31 L2296.0,585.18 L2297.5,577.01 L2299.0,568.80 L2300.5,560.56 L2302.0,552.29 L2303.5,543.99 L2305.0,535.66 L2306.5,527.32 L2308.0,518.97 L2309.5,510.60 L2311.0,502.24 L2312.5,493.87 L2314.0,485.50 L2315.5,477.15 L2317.0,468.81 L2318.5,460.49 L2320.0,452.19 L2321.5,443.93 L2323.0,435.69 L2324.5,427.50 L2326.0,419.36 L2327.5,411.26 L2329.0,403.22 L2330.5,395.24 L2332.0,387.33 L2333.5,379.49 L2335.0,371.72 L2336.5,364.04 L2338.0,356.45 L2339.5,348.95 L2341.0,341.55 L2342.5,334.25 L2344.0,327.06 L2345.5,319.99 L2347.0,313.04 L2348.5,306.21 L2350.0,299.51 L2351.5,292.94 L2353.0,286.52 L2354.5,280.24 L2356.0,274.11 L2357.5,268.14 L2359.0,262.32 L2360.5,256.67 L2362.0,251.19 L2363.5,245.87 L2365.0,240.74 L2366.5,235.79 L2368.0,231.02 L2369.5,226.44 L2371.0,222.05 L2372.5,217.86 L2374.0,213.87 L2375.5,210.08 L2377.0,206.49 L2378.5,203.12 L2380.0,199.95 L2381.5,197.00 L2383.0,194.27 L2384.5,191.76 L2386.0,189.47 L2387.5,187.40 L2389.0,185.55 L2390.5,183.93 L2392.0,182.54 L2393.5,181.38 L2395.0,180.45 L2396.5,179.74 L2398.0,179.27 L2399.5,179.03 L2401.0,179.03 L2402.5,179.25 L2404.0,179.72 L2405.5,180.42 L2407.0,181.36 L2408.5,182.53 L2410.0,183.93 L2411.5,185.57 L2413.0,187.43 L2414.5,189.53 L2416.0,191.85 L2417.5,194.40 L2419.0,197.18 L2420.5,200.17 L2422.0,203.38 L2423.5,206.81 L2425.0,210.45 L2426.5,214.30 L2428.0,218.36 L2429.5,222.62 L2431.0,227.08 L2432.5,231.73 L2434.0,236.58 L2435.5,241.61 L2437.0,246.83 L2438.5,252.23 L2440.0,257.80 L2441.5,263.55 L2443.0,269.46 L2444.5,275.53 L2446.0,281.76 L2447.5,288.14 L2449.0,294.66 L2450.5,301.33 L2452.0,308.14 L2453.5,315.07 L2455.0,322.13 L2456.5,329.31 L2458.0,336.61 L2459.5,344.02 L2461.0,351.53 L2462.5,359.14 L2464.0,366.84 L2465.5,374.63 L2467.0,382.51 L2468.5,390.46 L2470.0,398.48 L2471.5,406.56 L2473.0,414.71 L2474.5,422.91 L2476.0,431.16 L2477.5,439.45 L2479.0,447.79 L2480.5,456.15 L2482.0,464.54 L2483.5,472.96 L2485.0,481.39 L2486.5,489.84 L2488.0,498.29 L2489.5,506.74 L2491.0,515.20 L2492.5,523.64 L2494.0,532.07 L2495.5,540.49 L2497.0,548.88 L2498.5,557.25 L2500.0,565.59 L2501.5,573.90 L2503.0,582.16 L2504.5,590.39 L2506.0,598.57 L2507.5,606.70 L2509.0,614.77 L2510.5,622.79 L2512.0,630.75 L2513.5,638.65 L2515.0,646.48 L2516.5,654.24 L2518.0,661.92 L2519.5,669.53 L2521.0,677.07 L2522.5,684.52 L2524.0,691.89 L2525.5,699.17 L2527.0,706.37 L2528.5,713.48 L2530.0,720.50 L2531.5,727.42 L2533.0,734.25 L2534.5,740.98 L2536.0,747.62 L2537.5,754.16 L2539.0,760.59 L2540.5,766.93 L2542.0,773.17 L2543.5,779.30 L2545.0,785.33 L2546.5,791.25 L2548.0,797.07 L2549.5,802.79 L2551.0,808.39 L2552.5,813.90 L2554.0,819.30 L2555.5,824.59 L2557.0,829.78 L2558.5,834.86 L2560.0,839.84 L2561.5,844.71 L2563.0,849.48 L2564.5,854.14 L2566.0,858.71 L2567.5,863.16 L2569.0,867.52 L2570.5,871.78 L2572.0,875.93 L2573.5,879.99 L2575.0,883.95 L2576.5,887.81 L2578.0,891.57 L2579.5,895.24 L2581.0,898.81 L2582.5,902.29 L2584.0,905.68 L2585.5,908.98 L2587.0,912.19 L2588.5,915.31 L2590.0,918.34 L2591.5,921.29 L2593.0,924.16 L2594.5,926.94 L2596.0,929.64 L2597.5,932.26 L2599.0,934.81 L2600.5,937.28 L2602.0,939.67 L2603.5,941.99 L2605.0,944.25 L2606.5,946.43 L2608.0,948.55 L2609.5,950.61 L2611.0,952.60 L2612.5,954.52 L2614.0,956.39 L2615.5,958.19 L2617.0,959.94 L2618.5,961.63 L2620.0,963.26 L2621.5,964.84 L2623.0,966.36 L2624.5,967.83 L2626.0,969.25 L2627.5,970.62 L2629.0,971.94 L2630.5,973.21 L2632.0,974.44 L2633.5,975.62 L2635.0,976.75 L2636.5,977.85 L2638.0,978.90 L2639.5,979.91 L2641.0,980.89 L2642.5,981.82 L2644.0,982.72 L2645.5,983.58 L2647.0,984.41 L2648.5,985.20 L2650.0,985.96 L2651.5,986.69 L2653.0,987.39 L2654.5,988.06 L2656.0,988.70 L2657.5,989.31 L2659.0,989.89 L2660.5,990.45 L2662.0,990.99 L2663.5,991.50 L2665.0,991.98 L2666.5,992.45 L2668.0,992.89 L2669.5,993.31 L2671.0,993.72 L2672.5,994.10 L2674.0,994.46 L2675.5,994.81 L2677.0,995.14 L2678.5,995.45 L2680.0,995.75 L2681.5,996.03 L2683.0,996.30 L2684.5,996.55 L2686.0,996.79 L2687.5,997.02 L2689.0,997.24 L2690.5,997.44 L2692.0,997.63 L2693.5,997.81 L2695.0,997.99 L2696.5,998.15 L2698.0,998.30 L2699.5,998.45 L2701.0,998.58 L2702.5,998.71 L2704.0,998.83 L2705.5,998.95 L2707.0,999.05 L2708.5,999.15 L2710.0,999.25 L2711.5,999.33 L2713.0,999.42 L2714.5,999.50 L2716.0,999.57 L2717.5,999.64 L2719.0,999.70 L2720.5,999.76 L2722.0,999.81 L2723.5,999.87 L2725.0,999.91 L2726.5,999.96 L2728.0,1000.00 L2729.5,1000.04 L2731.0,1000.08 L2732.5,1000.11 L2734.0,1000.14 L2735.5,1000.17 L2737.0,1000.20 L2738.5,1000.22 L2740.0,1000.25 L2741.5,1000.27" fill="none" stroke="url(#g1684)" stroke-width="4.8" stroke-linejoin="round"/></g>
</g>
<text x="1628.82" y="1022.00" font-size="69.5" textLength="34.51" lengthAdjust="spacingAndGlyphs">0</text>
<text x="1627.57" y="884.23" font-size="69.5" textLength="36.24" lengthAdjust="spacingAndGlyphs">2</text>
<text x="1629.49" y="746.46" font-size="69.5" textLength="31.59" lengthAdjust="spacingAndGlyphs">4</text>
<text x="1629.71" y="608.69" font-size="69.5" textLength="32.32" lengthAdjust="spacingAndGlyphs">6</text>
<text x="1631.93" y="470.92" font-size="69.5" textLength="30.92" lengthAdjust="spacingAndGlyphs">8</text>
<text x="1598.86" y="333.15" font-size="69.5" textLength="64.15" lengthAdjust="spacingAndGlyphs">10</text>
<text x="1599.21" y="195.38" font-size="69.5" textLength="63.59" lengthAdjust="spacingAndGlyphs">12</text>
<text x="1598.95" y="57.61" font-size="69.5" textLength="63.11" lengthAdjust="spacingAndGlyphs">14</text>
<text x="1673.52" y="1070.70" font-size="69.5" textLength="23.63" lengthAdjust="spacingAndGlyphs">1</text>
<text x="2051.99" y="1070.70" font-size="69.5" textLength="63.80" lengthAdjust="spacingAndGlyphs">10</text>
<text x="2432.76" y="1070.70" font-size="69.5" textLength="97.95" lengthAdjust="spacingAndGlyphs">100</text>
<text x="2814.72" y="1070.70" font-size="69.5" textLength="131.62" lengthAdjust="spacingAndGlyphs">1000</text>
<text x="2064.04" y="1141.80" font-size="68.5" textLength="430.13" lengthAdjust="spacingAndGlyphs">Particle size/nm</text>
<text transform="translate(1569.10,674.78) rotate(-90)" font-size="69.5" textLength="307.71" lengthAdjust="spacingAndGlyphs">Intensity/%</text>
<text x="1731.10" y="118.90" font-size="70.5" textLength="44.68" lengthAdjust="spacingAndGlyphs">B</text>
</svg>
</body></html>
